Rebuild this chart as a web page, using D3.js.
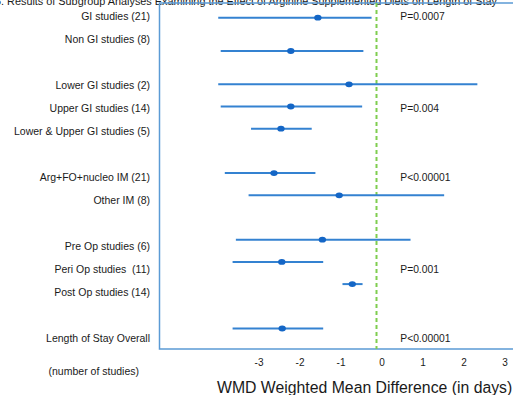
<!DOCTYPE html>
<html>
<head>
<meta charset="utf-8">
<script src="https://cdn.jsdelivr.net/npm/d3@7"></script>
<style>
  html, body { margin: 0; padding: 0; background: #fff; }
  svg { display: block; }
  text { font-family: "Liberation Sans", Arial, sans-serif; }
</style>
</head>
<body>
<svg id="chart" width="513" height="395"></svg>
<script>
// ---- data ----
const categories = [
  "GI studies (21)",
  "Non GI studies (8)",
  "Lower GI studies (2)",
  "Upper GI studies (14)",
  "Lower & Upper GI studies (5)",
  "Arg+FO+nucleo IM (21)",
  "Other IM (8)",
  "Pre Op studies (6)",
  "Peri Op studies  (11)",
  "Post Op studies (14)",
  "Length of Stay Overall"
];
const groupSizes = [2, 3, 2, 3, 1];
const wmd    = [-1.43, -2.09, -0.67, -2.09, -2.33, -2.50, -0.91, -1.32, -2.31, -0.59, -2.30];
const ciLow  = [-3.86, -3.80, -3.86, -3.80, -3.06, -3.70, -3.12, -3.43, -3.51, -0.83, -3.51];
const ciHigh = [-0.12, -0.32,  2.46, -0.35, -1.58, -1.49,  1.65,  0.83, -1.30, -0.34, -1.30];
// y values of the scatter series (row units)
const yValues = [0, 1.5, 3, 4, 5, 7, 8, 10, 11, 12, 14];
const pLabels = ["P=0.0007", "", "", "P=0.004", "", "P<0.00001", "", "", "P=0.001", "", "P<0.00001"];
const tickValues = [-3, -2, -1, 0, 1, 2, 3];
const titleText = "6. Results of Subgroup Analyses Examining the Effect of Arginine Supplemented Diets on Length of Stay";
const xTitle = "WMD Weighted Mean Difference (in days)";
const footLabel = "(number of studies)";

// label rows: one row per category, one blank row between groups
const labelRows = [];
{ let s = 0; groupSizes.forEach(n => { for (let i = 0; i < n; i++) labelRows.push(s++); s++; }); }

// ---- layout ----
const svg = d3.select("#chart");
const frame = { left: 159.5, top: 3, right: 513, bottom: 349 };
const x = d3.scaleLinear().domain([-3, 3]).range([253.5, 499.5]);
const yMark = d3.scaleLinear().domain([0, 14]).range([17.7, 328.5]);
const yLab = d3.scaleLinear().domain([0, 14]).range([16.2, 337.9]);

const textColor = "#1a1a1a";
const lineBlue = "#3482d1";
const dotBlue = "#1466c6";
const frameBlue = "#5b9bd5";

// title (partially off the top of the picture, as in the reference)
svg.append("text")
  .attr("x", 497).attr("y", 5)
  .attr("text-anchor", "end")
  .attr("font-size", 10.85)
  .attr("fill", textColor)
  .text(titleText);

// frame
svg.append("path")
  .attr("d", `M${frame.right},${frame.top}H${frame.left}V${frame.bottom}H${frame.right}`)
  .attr("fill", "none")
  .attr("stroke", frameBlue)
  .attr("stroke-width", 1.5);

// zero line
svg.append("line")
  .attr("x1", x(0)).attr("x2", x(0))
  .attr("y1", frame.top).attr("y2", frame.bottom)
  .attr("stroke", "#7fcd4f")
  .attr("stroke-width", 2)
  .attr("stroke-dasharray", "4,3");

// CI lines
svg.append("g").selectAll("line")
  .data(categories)
  .join("line")
  .attr("x1", (d, i) => x(ciLow[i]))
  .attr("x2", (d, i) => x(ciHigh[i]))
  .attr("y1", (d, i) => yMark(yValues[i]))
  .attr("y2", (d, i) => yMark(yValues[i]))
  .attr("stroke", lineBlue)
  .attr("stroke-width", 2);

// points
svg.append("g").selectAll("ellipse")
  .data(categories)
  .join("ellipse")
  .attr("cx", (d, i) => x(wmd[i]))
  .attr("cy", (d, i) => yMark(yValues[i]))
  .attr("rx", 3.7)
  .attr("ry", 2.9)
  .attr("fill", dotBlue);

// category labels
svg.append("g").selectAll("text")
  .data(categories)
  .join("text")
  .attr("x", 150)
  .attr("y", (d, i) => yLab(labelRows[i]))
  .attr("dy", "0.35em")
  .attr("text-anchor", "end")
  .attr("font-size", 10.5)
  .attr("fill", textColor)
  .attr("xml:space", "preserve")
  .style("white-space", "pre")
  .text(d => d);

svg.append("text")
  .attr("x", 139).attr("y", 371.7)
  .attr("dy", "0.35em")
  .attr("text-anchor", "end")
  .attr("font-size", 10.5)
  .attr("fill", textColor)
  .text(footLabel);

// p values
svg.append("g").selectAll("text")
  .data(pLabels.map((p, i) => ({ p, i })).filter(d => d.p))
  .join("text")
  .attr("x", x(0.58))
  .attr("y", d => yLab(labelRows[d.i]))
  .attr("dy", "0.35em")
  .attr("font-size", 10.3)
  .attr("fill", textColor)
  .text(d => d.p);

// x axis (labels only)
const axis = d3.axisBottom(x)
  .tickValues(tickValues)
  .tickSize(0)
  .tickPadding(3)
  .tickFormat(d => String(d));
const gx = svg.append("g")
  .attr("transform", "translate(5,356)")
  .call(axis);
gx.select(".domain").remove();
gx.selectAll("text")
  .attr("font-size", 10)
  .attr("fill", textColor)
  .style("font-family", '"Liberation Sans", Arial, sans-serif');

// x title
svg.append("text")
  .attr("x", 217).attr("y", 392.7)
  .attr("font-size", 15.8)
  .attr("fill", textColor)
  .text(xTitle);
</script>
</body>
</html>
